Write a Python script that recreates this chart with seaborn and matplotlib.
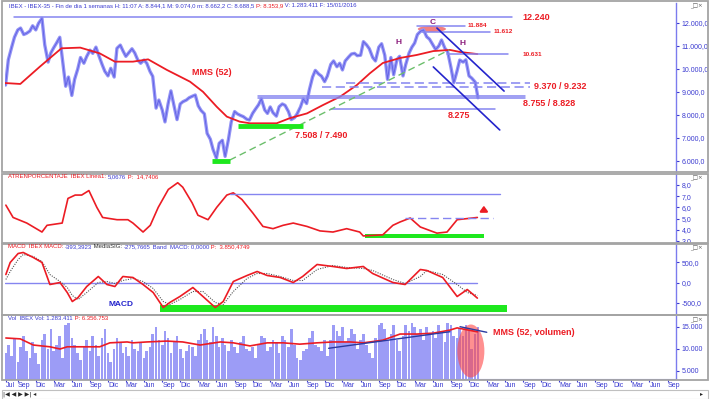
import numpy as np
import pandas as pd
import matplotlib
matplotlib.use('Agg')
import matplotlib.pyplot as plt
from matplotlib.patches import Ellipse, Rectangle
import seaborn as sns

sns.set_style('white')
plt.rcParams['font.family'] = ['Liberation Sans', 'DejaVu Sans']

price = [9300, 10400, 10950, 11380, 11700, 11780, 11500, 11550, 11650, 11880, 11700, 11990,
         12200, 11050, 10300, 10700, 10920, 11120, 11380, 10400, 9250, 9650, 8850, 9550,
         10000, 10500, 10250, 10540, 10820, 10680, 10950, 10600, 10200, 9900, 9700, 10030,
         9650, 10900, 11040, 10780, 10550, 10700, 10880, 10700, 10380, 10250, 10390, 10250,
         9900, 9680, 8300, 8650, 8220, 7700, 8500, 9050, 8350, 7800, 8480, 8580,
         8650, 8750, 8820, 8870, 8400, 8200, 8050, 7200, 6950, 6500, 6120, 6770,
         6900, 6200, 6950, 7700, 8150, 8050, 7980, 7930, 7820, 7780, 8070, 8250,
         8450, 8700, 8220, 8070, 8350, 8100, 7950, 8360, 8480, 8420, 8150, 7800,
         7880, 8050, 8350, 8700, 8500, 9100, 9650, 9940, 9780, 9690, 9450, 9700,
         10200, 10350, 10100, 10250, 9960, 10350, 10520, 10650, 10680, 10580, 10600, 11190,
         11050, 10880, 10500, 10350, 10950, 11100, 10600, 9550, 10500, 9750, 10400, 10550,
         9700, 10200, 10700, 10950, 11130, 11500, 11650, 11700, 11400, 11300, 11050, 10850,
         11000, 11260, 10900, 10750, 10050, 9400, 9900, 10390, 10300, 10400, 9700, 9600,
         9430, 8750]
volume = [9000, 11000, 8500, 12500, 7000, 10500, 13000, 9500, 8000, 11500, 9000, 6500,
          12000, 13500, 10000, 14500, 9500, 11000, 13000, 8000, 15500, 16000, 12500, 11000,
          9000, 7500, 10500, 12000, 9500, 13000, 11000, 8500, 12500, 14500, 9000, 7000,
          10000, 12500, 11500, 9000, 10500, 8500, 12000, 10000, 9500, 11500, 8000, 9500,
          10500, 13500, 15000, 12000, 11000, 14000, 12500, 9000, 11500, 13000, 10000, 8000,
          9500, 11000, 10500, 8500, 12000, 13500, 14500, 12000, 11500, 15000, 13000, 10500,
          12500, 11000, 9500, 12000, 10500, 9000, 11500, 13000, 10000, 9500, 10500, 8000,
          11000, 13000, 12500, 9500, 10500, 12000, 11500, 9000, 13000, 12000, 10500, 14500,
          11000, 8000, 7500, 9500, 10000, 12500, 14000, 11000, 10500, 9500, 12000, 8500,
          12000, 15500, 14000, 13000, 15000, 11500, 12500, 14500, 13500, 10000, 12000, 13500,
          11000, 9000, 8000, 12500, 15500, 16000, 14500, 12000, 13500, 15500, 12000, 9500,
          13000, 15500, 14000, 16000, 15000, 13500, 14500, 12000, 15000, 13500, 14000, 12500,
          15500, 14000, 11500, 16000, 15500, 13000, 12500, 14500, 13000, 15500, 14000, 10000,
          13500, 15000]

# MMS(52) of the price (decimal years)
ma_t = [2009.49, 2009.70, 2009.97, 2010.27, 2010.53, 2010.80, 2011.01, 2011.26, 2011.47, 2011.73,
        2011.95, 2012.05, 2012.23, 2012.42, 2012.56, 2012.74, 2012.88, 2013.25, 2013.43, 2013.67,
        2013.89, 2014.13, 2014.36, 2014.54, 2014.72, 2014.96, 2015.19, 2015.42, 2015.65, 2015.79,
        2016.03]
ma_v = [9390, 9350, 10100, 10900, 10930, 10680, 10320, 10320, 10420, 9960,
        9610, 9450, 9010, 8360, 7930, 7710, 7640, 7640, 7860, 8070,
        8430, 8800, 9300, 9810, 10260, 10480, 10610, 10780, 10830, 10740,
        10650]

# ATR in percent
atr_t = [2009.50, 2009.60, 2009.79, 2010.00, 2010.07, 2010.28, 2010.36, 2010.46, 2010.55, 2010.65,
         2010.76, 2010.84, 2011.04, 2011.19, 2011.26, 2011.40, 2011.50, 2011.61, 2011.75, 2011.88,
         2011.95, 2012.08, 2012.16, 2012.30, 2012.42, 2012.56, 2012.65, 2012.77, 2012.92, 2013.06,
         2013.20, 2013.34, 2013.48, 2013.67, 2013.85, 2014.03, 2014.22, 2014.40, 2014.45, 2014.72,
         2014.86, 2014.96, 2015.10, 2015.24, 2015.47, 2015.61, 2015.75, 2015.89, 2016.03]
atr_v = [6.2, 5.1, 4.6, 3.8, 4.4, 4.6, 6.8, 7.1, 7.1, 7.5,
         6.0, 5.1, 4.9, 4.9, 4.6, 3.8, 4.4, 6.0, 7.6, 8.2,
         7.8, 6.4, 5.3, 4.9, 6.0, 7.1, 7.3, 6.7, 5.5, 4.3,
         4.1, 4.4, 4.6, 4.3, 3.9, 3.8, 4.1, 3.8, 3.45, 3.55,
         4.4, 4.7, 5.05, 4.25, 3.7, 3.8, 4.9, 5.0, 5.1]

# MACD and its signal line
macd_t = [2009.50, 2009.56, 2009.67, 2009.74, 2009.88, 2010.00, 2010.11, 2010.25, 2010.35, 2010.42,
          2010.50, 2010.62, 2010.78, 2010.90, 2011.01, 2011.12, 2011.26, 2011.40, 2011.54, 2011.68,
          2011.77, 2011.91, 2012.09, 2012.23, 2012.40, 2012.51, 2012.65, 2012.84, 2012.98, 2013.12,
          2013.30, 2013.48, 2013.61, 2013.81, 2014.03, 2014.22, 2014.45, 2014.58, 2014.86, 2015.03,
          2015.24, 2015.33, 2015.55, 2015.75, 2015.89, 2016.03]
macd_v = [200, 500, 725, 750, 625, 500, -50, 0, -250, -475,
          -375, -100, 150, -50, -100, 150, 125, -50, -250, -625,
          -500, -350, -125, -350, -625, -475, 25, 175, 275, 175,
          125, 0, 150, 450, 400, 350, 400, 225, 0, -50,
          325, 300, 125, -350, -175, -390]
signal_v = [75, 275, 575, 700, 650, 525, 200, 25, -125, -325,
            -425, -250, 0, 25, -25, 50, 100, 25, -150, -475,
            -550, -425, -225, -225, -500, -550, -225, 100, 225, 225,
            150, 50, 50, 325, 425, 375, 350, 300, 75, -25,
            150, 300, 200, -50, -250, -325]

# MMS(52) of the volume
vma_t = [2009.50, 2009.70, 2009.88, 2010.11, 2010.25, 2010.35, 2010.62, 2010.80, 2010.94, 2011.18,
         2011.26, 2011.45, 2011.73, 2011.95, 2012.19, 2012.47, 2012.65, 2012.88, 2013.12, 2013.34,
         2013.57, 2013.81, 2014.03, 2014.27, 2014.45, 2014.72, 2014.96, 2015.19, 2015.42, 2015.65,
         2015.75, 2016.03]
vma_v = [12500, 12300, 10900, 10500, 10000, 10500, 10500, 10500, 11400, 11600,
         11400, 11600, 11800, 11600, 10900, 11600, 11400, 10700, 11400, 11400,
         11100, 11400, 11600, 11600, 11400, 12000, 13400, 13400, 13600, 14300,
         14800, 13900]

# support / resistance levels drawn on the price panel
lvl_v = [12240, 11884, 11612, 10631, 8828, 8755, 8275]
lvl_t0 = [2009.61, 2015.19, 2015.26, 2015.61, 2012.99, 2012.99, 2014.00]
lvl_t1 = [2016.51, 2015.86, 2016.20, 2016.45, 2016.69, 2016.69, 2016.27]
dash_v = [9370, 9232]
dash_t0 = [2014.21, 2013.88]
dash_t1 = [2016.76, 2016.76]

W, H = 710, 399
T0, T1 = 2009.488, 2018.781
RED = '#ec1c24'
LBLUE = '#8585f0'
DBLUE = '#2424cc'
GREEN = '#1ee81e'
TXT = '#3a3ad0'


def dec_year(dates):
    dates = pd.DatetimeIndex(dates)
    return np.asarray(dates.year + (dates.dayofyear - 1) / 365.25)


def es(v, dec=1):
    s = f'{v:,.{dec}f}'
    return s.replace(',', 'X').replace('.', ',').replace('X', '.')


def box(l, t, r, b):
    return [l / W, 1 - b / H, (r - l) / W, (b - t) / H]


def style(ax, ylim, ticks, labels):
    ax.set_xlim(T0, T1)
    ax.set_ylim(*ylim)
    ax.set_yticks(ticks)
    ax.set_yticklabels(labels)
    ax.yaxis.tick_right()
    ax.tick_params(axis='y', labelsize=5, colors=TXT, length=2, pad=2, right=True, left=False)
    for s in ['left', 'top', 'bottom']:
        ax.spines[s].set_visible(False)
    ax.spines['right'].set_color('#7b7bee')
    ax.spines['right'].set_linewidth(1.0)
    ax.set_xlabel('')
    ax.set_ylabel('')
    ax.set_xticks([])


semi = pd.date_range('2009-07-01', '2016-01-15', freq='SMS')
px = pd.DataFrame({'t': dec_year(semi), 'close': price, 'vol': volume})
ma = pd.DataFrame({'t': ma_t, 'v': ma_v})
atr = pd.DataFrame({'t': atr_t, 'v': atr_v})
macd = pd.DataFrame({'t': macd_t, 'macd': macd_v, 'sig': signal_v})
vma = pd.DataFrame({'t': vma_t, 'v': vma_v})

fig = plt.figure(figsize=(7.1, 3.99), dpi=100)
ax_p = fig.add_axes(box(5, 3, 676, 172))
ax_a = fig.add_axes(box(5, 174, 676, 242))
ax_m = fig.add_axes(box(5, 244, 676, 313))
ax_v = fig.add_axes(box(5, 316, 676, 379))

# panel frames
for top, bot in [(1, 172.5), (173.5, 243), (243.5, 314.5), (315, 380)]:
    fig.add_artist(Rectangle((2 / W, 1 - bot / H), 706 / W, (bot - top) / H,
                             transform=fig.transFigure, fill=False, ec='#a4a4a4', lw=1.3))
    fig.text(690 / W, 1 - (top + 5) / H, '_□×', fontsize=4, color='#555555',
             family=['DejaVu Sans'], va='center')

# ---- price panel ----
sns.lineplot(data=px, x='t', y='close', ax=ax_p, color='#9494f5', lw=2.4)
sns.lineplot(data=px, x='t', y='close', ax=ax_p, color='#6464e6', lw=0.7)
sns.lineplot(data=ma, x='t', y='v', ax=ax_p, color=RED, lw=1.3)
for v, a, b in zip(lvl_v, lvl_t0, lvl_t1):
    ax_p.plot([a, b], [v, v], color=LBLUE, lw=1.1)
for v, a, b in zip(dash_v, dash_t0, dash_t1):
    ax_p.plot([a, b], [v, v], color=LBLUE, lw=1.1, ls=(0, (6, 3)))
ax_p.plot([2012.60, 2015.64], [6040, 10830], color='#6cbf6c', lw=1.0, ls=(0, (5, 3)))
ax_p.plot([2012.35, 2012.60], [5980, 5980], color=GREEN, lw=3.5, solid_capstyle='butt')
ax_p.plot([2012.72, 2013.61], [7540, 7540], color=GREEN, lw=3.5, solid_capstyle='butt')
ax_p.plot([2015.47, 2016.40], [11780, 9040], color=DBLUE, lw=1.2)
ax_p.plot([2015.42, 2016.34], [10090, 7350], color=DBLUE, lw=1.2)
ax_p.add_patch(Ellipse((2015.40, 11740), 0.39, 260, color='#f06a6a', alpha=0.85, lw=0))
for s, x, y in [('C', 2015.41, 12010), ('H', 2014.94, 11170), ('H', 2015.83, 11130)]:
    ax_p.text(x, y, s, color='#8b1a7b', fontsize=6, fontweight='bold', ha='center', va='center')
for s, x, y, fs in [('12.240', 2016.66, 12240, 6.5), ('11.884', 2015.89, 11900, 4.6),
                    ('11.612', 2016.26, 11610, 4.6), ('10.631', 2016.65, 10610, 4.6),
                    ('9.370 / 9.232', 2016.81, 9260, 6.5), ('8.755 / 8.828', 2016.66, 8480, 6.5),
                    ('8.275', 2015.62, 7960, 6.5), ('7.508 / 7.490', 2013.50, 7090, 6.5),
                    ('MMS (52)', 2012.08, 9830, 6.5)]:
    ax_p.text(x, y, s, color=RED, fontsize=fs, fontweight='bold', ha='left', va='center')
style(ax_p, (5522, 12870), range(6000, 12001, 1000), [es(v) for v in range(6000, 12001, 1000)])

# ---- ATR panel ----
sns.lineplot(data=atr, x='t', y='v', ax=ax_a, color=RED, lw=1.2)
ax_a.plot([2012.60, 2016.34], [7.2, 7.2], color=LBLUE, lw=1.0)
ax_a.plot([2015.03, 2016.25], [5.05, 5.05], color=LBLUE, lw=1.0, ls=(0, (6, 3)))
ax_a.fill_between([2014.47, 2016.12], 3.27, 3.63, color=GREEN, lw=0)
ax_a.annotate('', xy=(2016.12, 6.4), xytext=(2016.12, 5.55),
              arrowprops=dict(arrowstyle='-|>,head_width=0.22,head_length=0.3', color=RED, lw=1.6))
style(ax_a, (2.91, 8.98), range(3, 9), [es(v) for v in range(3, 9)])

# ---- MACD panel ----
ax_m.plot([2009.49, 2016.03], [0, 0], color=LBLUE, lw=1.0)
ax_m.fill_between([2011.63, 2016.44], -730, -560, color=GREEN, lw=0)
sns.lineplot(data=macd, x='t', y='sig', ax=ax_m, color='#555555', lw=0.8, ls=(0, (1, 1.2)))
sns.lineplot(data=macd, x='t', y='macd', ax=ax_m, color=RED, lw=1.2)
ax_m.text(2010.92, -560, 'MACD', color=DBLUE, fontsize=6, fontweight='bold', ha='left', va='center')
style(ax_m, (-762, 962), [-500, 0, 500], [es(v) for v in (-500, 0, 500)])

# ---- volume panel ----
ax_v.bar(px['t'], px['vol'], width=0.036, color='#9c9cf6', lw=0)
sns.lineplot(data=vma, x='t', y='v', ax=ax_v, color=RED, lw=1.2)
ax_v.plot([2013.97, 2015.65], [10160, 13930], color='#2a3aa0', lw=1.0)
ax_v.plot([2015.79, 2016.16], [15070, 13800], color='#2a3aa0', lw=1.0)
ax_v.add_patch(Ellipse((2015.94, 9545), 0.374, 12045, color='#ff4646', alpha=0.6, lw=0))
ax_v.text(2016.25, 13640, 'MMS (52, volumen)', color=RED, fontsize=6.5, fontweight='bold',
          ha='left', va='center')
style(ax_v, (3180, 17500), [5000, 10000, 15000], [es(v, 0) for v in (5000, 10000, 15000)])

# month axis under the volume panel
month_names = {3: 'Mar', 6: 'Jun', 9: 'Sep', 12: 'Dic', 7: 'Jul'}
months = pd.DatetimeIndex(['2009-07-01']).append(pd.date_range('2009-09-01', '2018-09-01', freq='QS-MAR'))
ax_v.set_xticks(dec_year(months))
ax_v.set_xticklabels([month_names[m] for m in months.month])
ax_v.tick_params(axis='x', labelsize=5, colors=TXT, length=2, pad=0.5, bottom=True)
for lbl in ax_v.get_xticklabels():
    lbl.set_ha('left')
ax_v.spines['bottom'].set_visible(True)
ax_v.spines['bottom'].set_color('#9090e8')

# header lines, coloured piece by piece
renderer = fig.canvas.get_renderer()


def header(x, y, parts, size=4.3):
    for s, c in parts:
        t = fig.text(x / W, 1 - y / H, s, color=c, fontsize=size, va='center')
        x += t.get_window_extent(renderer).width


header(9, 5.5, [('IBEX - IBEX-35 - Fin de dia 1 semanas H: 11:07 A: 8.844,1 M: 9.074,0 '
                 'm: 8.662,2 C: 8.688,5 ', TXT), ('P: 8.353,9', RED),
                (' V: 1.283.411 F: 15/01/2016', TXT)])
header(8, 176.5, [('ATRENPORCENTAJE  IBEX Linea1: ', RED), ('5,0676', TXT), (' P:  14,7406', RED)])
header(8, 246.5, [('MACD  IBEX MACD: ', RED), ('-393,3923', TXT), (' MediaSIG: ', '#333333'),
                  ('-275,7665', TXT), (' Band  MACD: 0,0000', TXT), (' P:  3.850,4749', RED)])
header(8, 318.5, [('Vol  IBEX Vol: 1.283.411', TXT), (' P: 6.356.753', RED)])

# navigation buttons at the bottom
fig.text(3 / W, 1 - 394 / H, '|◀ ◀ ▶ ▶| ◂', fontsize=4.3, family=['DejaVu Sans'], va='center')
fig.text(700 / W, 1 - 394 / H, '▸', fontsize=4.3, family=['DejaVu Sans'], va='center')
fig.add_artist(Rectangle((2 / W, 1 - 398.5 / H), 706 / W, 9 / H, transform=fig.transFigure,
                         fill=False, ec='#c0c0c0', lw=0.8))

fig.savefig('out.png', dpi=100)
